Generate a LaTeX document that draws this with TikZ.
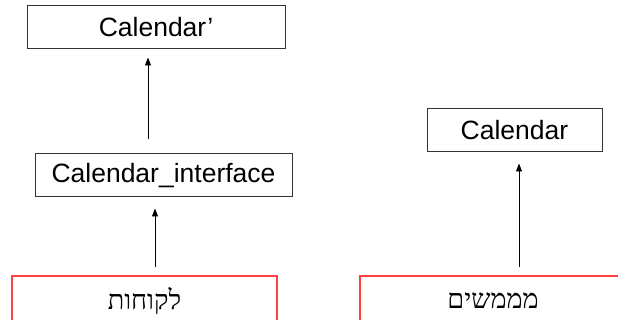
\documentclass[tikz,border=0pt]{standalone}
\usepackage{fontspec}
\setmainfont{Liberation Sans}
\newfontfamily\hebfont[Script=Hebrew]{Liberation Serif}
\TeXXeTstate=1
\usetikzlibrary{arrows.meta}

\begin{document}
\begin{tikzpicture}[
  x=1pt, y=-1pt,
  class_box/.style={rectangle, draw=black!80, line width=1pt, minimum height=43pt, inner sep=0pt, font=\fontsize{26.5}{30}\selectfont},
  user_box/.style={rectangle, draw=red!75, line width=1.5pt, minimum height=50pt, inner sep=0pt, font=\hebfont\fontsize{27}{30}\selectfont},
  uses/.style={-{Triangle[width=6pt,length=8pt]}, line width=0.9pt},
]
\path[use as bounding box, clip] (0,0) rectangle (618,320);
\draw (156,27.5) node (calp) [class_box, minimum width=258pt] {Calendar’};
\draw (163.5,175.5) node (iface) [class_box, minimum width=257pt] {Calendar\_interface};
\draw (514.5,130.5) node (cal) [class_box, minimum width=175pt] {Calendar};
\draw (144.5,301) node (clients) [user_box, minimum width=265pt] {\beginR לקוחות\endR};
\draw (493,301) node (impl) [user_box, minimum width=266pt] {\beginR מממשים\endR};
% arrows stop short of the boxes
\draw[uses, shorten <=14pt, shorten >=8pt] ([xshift=-15.5pt]iface.north) -- ([xshift=-8pt]calp.south);
\draw[uses, shorten <=8pt, shorten >=11pt] ([xshift=10.5pt]clients.north) -- ([xshift=-8.5pt]iface.south);
\draw[uses, shorten <=8pt, shorten >=11pt] ([xshift=26pt]impl.north) -- ([xshift=4.5pt]cal.south);
\end{tikzpicture}
\end{document}
